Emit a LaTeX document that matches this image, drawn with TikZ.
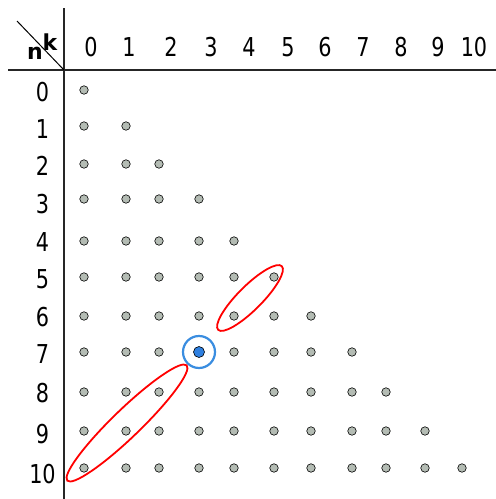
\documentclass[tikz,border=0pt]{standalone}
\usepackage{fontspec}
\newfontfamily\labfont[FakeStretch=0.8]{DejaVu Sans}
\newfontfamily\cornerfont{DejaVu Sans}
\definecolor{dotgray}{HTML}{B4BCB4}
\definecolor{ringblue}{HTML}{3A8DE0}
\definecolor{dotblue}{HTML}{2F80E0}
\begin{document}
\begin{tikzpicture}[x=1pt,y=1pt,
  axis/.style={line width=1.2pt, black!85},
  lab/.style={inner sep=0pt, font=\labfont\fontsize{26}{26}\selectfont},
  corner/.style={inner sep=0pt, font=\cornerfont\fontsize{22}{22}\selectfont\bfseries},
  pt/.style={circle, draw=black, line width=0.6pt, fill=dotgray, inner sep=0pt, minimum size=8.5pt},
  hilite/.style={circle, draw=black, line width=0.6pt, fill=dotblue, inner sep=0pt, minimum size=11pt},
  ring/.style={draw=ringblue, line width=2.2pt},
  oval/.style={draw=red, line width=1.8pt}]
\useasboundingbox (0,0) rectangle (496,-499);
% axes
\coordinate (vt) at (64,-8);
\coordinate (vb) at (64,-499);
\coordinate (hl) at (8,-70);
\coordinate (hr) at (496,-70);
\coordinate (dg) at (17,-21);
\coordinate (o) at (64,-70);
\draw[axis] (vt) -- (vb);
\draw[axis] (hl) -- (hr);
\draw[line width=1pt] (dg) -- (o);
\node[corner] (nlab) at (35,-53) {n};
\node[corner] (klab) at (50,-42) {k};
% column labels
\foreach \c/\x in {0/91,1/129,2/171,3/211,4/249,5/288,6/325,7/363,8/401,9/438,10/474}
  \node[lab] (col\c) at (\x,-47) {\c};
% row labels
\foreach \r/\y in {0/92,1/129,2/166,3/204,4/242,5/279,6/317,7/354,8/393,9/434,10/474}
  \node[lab] (row\r) at (42.5,-\y) {\r};
% ring behind
\node[circle, ring, minimum size=32pt, inner sep=0pt] (ringn) at (199,-352) {};
% dots
\foreach \r/\y in {0/90,1/126,2/164,3/199,4/241,5/277,6/316,7/352,8/392,9/431,10/468}{
  \foreach \c/\x in {0/84,1/126,2/159,3/199,4/234,5/274,6/311,7/352,8/386,9/425,10/462}{
    \ifnum\c>\r\else
      \ifnum\r=7 \ifnum\c=3
        \node[hilite] (d\r-\c) at (\x,-\y) {};
      \else
        \node[pt] (d\r-\c) at (\x,-\y) {};
      \fi
      \else
        \node[pt] (d\r-\c) at (\x,-\y) {};
      \fi
    \fi
  }
}
% ellipses
\coordinate (e1) at (250,-298);
\coordinate (e2) at (127,-423);
\draw[oval, rotate around={45:(e1)}] (e1) ellipse [x radius=45, y radius=12];
\draw[oval, rotate around={44:(e2)}] (e2) ellipse [x radius=83, y radius=14];
\end{tikzpicture}
\end{document}
